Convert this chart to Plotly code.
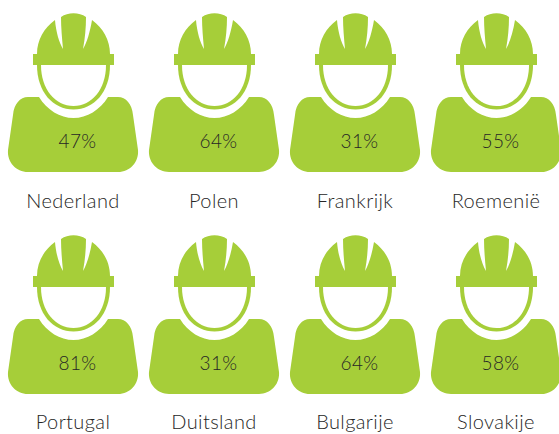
import plotly.graph_objects as go

countries = ["Nederland", "Polen", "Frankrijk", "Roemenië", "Portugal", "Duitsland", "Bulgarije", "Slovakije"]
percentages = [47, 64, 31, 55, 81, 31, 64, 58]

GREEN = "#A6CE39"
TEXT = "#262626"
COLS = [73, 214, 355, 496]
ROWS = [0, 222]
CX = 73.5

# icon outlines, drawn in the first cell's pixel frame and shifted per cell
HAT = [("M", 37, 54), ("C", 37, 40, 44, 28, 55, 20), ("C", 56, 32, 59, 42, 63, 49), ("C", 62, 38, 61, 28, 61, 17),
       ("C", 68, 12, 79, 12, 86, 17), ("C", 86, 28, 85, 38, 83, 49), ("C", 87, 42, 90, 32, 92, 20),
       ("C", 103, 28, 110, 40, 110, 54), ("Z",)]
BRIM = [("M", 33, 54), ("L", 114, 54), ("L", 114, 65), ("L", 33, 65), ("Z",)]
RING = [("M", 37, 65), ("C", 37, 92, 53, 109.5, 73.5, 109.5), ("C", 94, 109.5, 110, 92, 110, 65), ("Z",)]
FACE = [("M", 41, 65), ("C", 41, 89, 55, 106, 73.5, 106), ("C", 92, 106, 106, 89, 106, 65), ("Z",)]
BODY = [("M", 28, 97), ("L", 39, 97), ("C", 47, 110, 60, 118, 73.5, 118), ("C", 87, 118, 100, 110, 108, 97),
        ("L", 118, 97), ("C", 126, 97, 132, 104, 133, 115), ("L", 138, 150), ("C", 139, 162, 130, 172, 118, 172),
        ("L", 28, 172), ("C", 16, 172, 7, 162, 8, 150), ("L", 13, 115), ("C", 14, 104, 20, 97, 28, 97), ("Z",)]


def path(cmds, dx, dy):
    out = []
    for c in cmds:
        nums = c[1:]
        pts = [f"{nums[i] + dx},{nums[i + 1] + dy}" for i in range(0, len(nums), 2)]
        out.append(c[0] + " ".join(pts))
    return " ".join(out)


shapes = []
xs, xs_val, ys_val, ys_lab = [], [], [], []
for i in range(len(countries)):
    cx = COLS[i % 4]
    ry = ROWS[i // 4]
    dx = cx - CX + 0.5
    for cmds, col in ((BODY, GREEN), (HAT, GREEN), (BRIM, GREEN), (RING, GREEN), (FACE, "white")):
        shapes.append(dict(type="path", path=path(cmds, dx, ry), xref="x", yref="y",
                           fillcolor=col, line=dict(width=0), layer="below"))
    xs.append(cx)
    xs_val.append(cx + 4.5)
    ys_val.append(143 + ry)
    ys_lab.append(203 + ry - i // 4)

fig = go.Figure()
fig.add_trace(go.Scatter(x=xs_val, y=ys_val, mode="text", text=[f"{v}%" for v in percentages], cliponaxis=False,
                         textfont=dict(family="Lato", size=19, color=TEXT, weight=300), hoverinfo="skip"))
fig.add_trace(go.Scatter(x=xs, y=ys_lab, mode="text", text=countries, cliponaxis=False,
                         textfont=dict(family="Lato", size=20, color=TEXT, weight=300), hoverinfo="skip"))
fig.update_layout(width=559, height=434, margin=dict(l=0, r=0, t=0, b=0), showlegend=False,
                  paper_bgcolor="white", plot_bgcolor="white", shapes=shapes,
                  xaxis=dict(range=[0, 559], visible=False), yaxis=dict(range=[434, 0], visible=False))
fig.write_html("out.html", config=dict(displayModeBar=False),
               post_script="document.body.style.margin='0';document.documentElement.style.overflow='hidden';"
                           "document.querySelectorAll('.textpoint text').forEach(t=>t.style.letterSpacing='0.4px');")
